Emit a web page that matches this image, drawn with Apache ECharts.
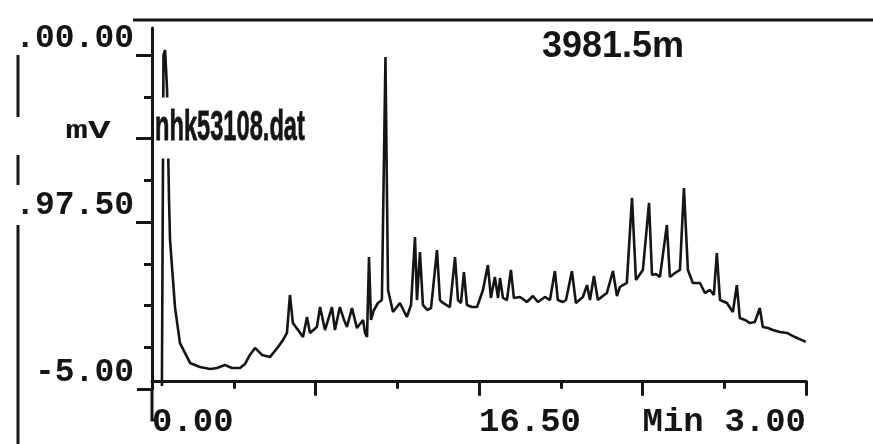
<!DOCTYPE html>
<html><head><meta charset="utf-8">
<script src="https://cdn.jsdelivr.net/npm/echarts@6/dist/echarts.min.js"></script>
<style>html,body{margin:0;padding:0;background:#fff}#c{width:873px;height:444px}</style>
</head><body><div id="c"></div>
<script>
// retention time (min)
const times = [0.50,0.58,0.66,0.76,0.86,0.91,1.16,1.41,1.92,2.42,2.93,3.28,3.68,4.04,4.44,4.69,4.94,5.20,5.55,5.95,6.36,6.61,6.81,6.96,7.11,7.37,7.62,7.82,7.97,8.32,8.48,8.73,9.08,9.23,9.48,9.69,9.84,10.09,10.34,10.65,10.75,10.85,10.95,11.05,11.20,11.40,11.60,11.78,11.91,12.16,12.51,12.86,13.07,13.27,13.37,13.52,13.67,13.88,14.08,14.38,14.53,14.68,15.03,15.29,15.44,15.59,15.74,15.89,16.14,16.40,16.70,16.95,17.10,17.30,17.46,17.56,17.71,17.91,18.11,18.26,18.57,18.92,19.22,19.47,19.83,20.08,20.33,20.48,20.73,20.89,21.19,21.39,21.74,21.95,22.10,22.30,22.50,22.75,22.95,23.26,23.46,23.61,23.76,23.96,24.22,24.42,24.77,25.08,25.23,25.43,25.63,25.98,26.13,26.39,26.64,26.84,27.04,27.29,27.65,27.90,28.15,28.35,28.50,28.66,29.01,29.31,29.51,29.66,29.92,30.17,30.42,30.67,30.82,31.08,31.33,31.68,32.04,32.44,32.99];
// detector signal (mV)
const signal = [-3.2,200.0,203.1,178.6,111.0,86.5,45.3,23.2,11.0,8.5,7.3,7.9,9.7,7.9,7.9,10.3,15.9,20.2,15.9,14.6,20.8,25.1,29.4,52.7,35.5,31.2,26.9,39.2,29.4,33.1,45.3,31.2,45.3,31.2,45.3,37.4,33.1,44.7,32.4,37.4,29.4,26.9,76.0,37.4,43.5,47.8,49.6,198.8,55.8,42.3,47.8,39.2,46.6,88.3,49.6,79.1,46.6,43.5,44.7,80.3,49.6,47.8,45.3,76.0,49.6,47.8,66.8,46.6,45.3,45.3,55.8,71.1,50.9,63.8,50.9,63.1,50.9,49.6,68.1,50.9,51.5,48.4,52.1,48.4,51.5,49.6,67.4,49.6,48.4,49.6,67.4,47.8,51.5,58.8,49.6,64.4,49.6,52.1,53.9,67.4,52.1,57.6,58.8,60.1,112.3,61.9,68.1,109.2,65.0,65.6,63.8,95.7,63.8,66.2,68.1,118.4,68.1,60.1,60.1,53.9,55.8,52.7,78.5,49.6,47.8,42.3,58.8,38.6,37.4,35.5,36.1,44.7,33.1,32.4,31.2,30.0,29.4,26.9,23.9];

const yTickValues = [-5, 20.625, 46.25, 71.875, 97.5, 123.125, 148.75, 174.375, 200];
const yMajorTicks = [97.5, 148.75, 200];
const yLabelValues = [-5, 97.5, 200];
const yLabelTexts = ['-5.00', '.97.50', '.00.00'];
const xMinorTicks = [4.125, 12.375, 20.625, 28.875];
const xMajorTicks = [8.25, 16.5, 24.75, 33];
const xLabelValues = [0, 16.5, 24.75, 33];
const xLabelTexts = ['0.00', '16.50', 'Min', '3.00'];
const titleText = '3981.5m';
const fileText = 'nhk53108.dat';
const unitText = 'mV';

const INK = '#151515';
const MONO = '"Liberation Mono","DejaVu Sans Mono",monospace';
const SANS = '"Liberation Sans",Arial,sans-serif';
const pick = (vals, texts) => v => { const i = vals.findIndex(a => Math.abs(a - v) < 1e-6); return i < 0 ? '' : texts[i]; };

const X_MIN = 0, X_MAX = 33, Y_MIN = -5, Y_MAX = 216.6;

const chart = echarts.init(document.getElementById('c'), null, {renderer: 'canvas'});
chart.setOption({
  animation: false,
  backgroundColor: '#fff',
  grid: {left: 152, right: 67, top: 28, bottom: 55},
  xAxis: [{
    type: 'value', min: X_MIN, max: X_MAX, position: 'bottom',
    splitLine: {show: false},
    axisLine: {lineStyle: {color: INK, width: 3}},
    axisTick: {customValues: xMinorTicks, length: 8, lineStyle: {color: INK, width: 3}},
    axisLabel: {customValues: xLabelValues, formatter: pick(xLabelValues, xLabelTexts),
      align: 'left', alignMaxLabel: 'right', margin: 16,
      color: INK, fontFamily: MONO, fontWeight: 'bold', fontSize: 34}
  }, {
    type: 'value', min: X_MIN, max: X_MAX, position: 'bottom', offset: 0,
    splitLine: {show: false}, axisLine: {show: false}, axisLabel: {show: false},
    axisTick: {customValues: xMajorTicks, length: 15, lineStyle: {color: INK, width: 3}}
  }],
  yAxis: [{
    type: 'value', min: Y_MIN, max: Y_MAX, position: 'left',
    splitLine: {show: false},
    axisLine: {show: true, lineStyle: {color: INK, width: 3}},
    axisTick: {show: true, customValues: yTickValues, length: 8, lineStyle: {color: INK, width: 3}},
    axisLabel: {customValues: yLabelValues, formatter: pick(yLabelValues, yLabelTexts),
      verticalAlign: 'bottom', margin: 18,
      color: INK, fontFamily: MONO, fontWeight: 'bold', fontSize: 33}
  }, {
    type: 'value', min: Y_MIN, max: Y_MAX, position: 'left', offset: 0,
    splitLine: {show: false}, axisLine: {show: false}, axisLabel: {show: false},
    axisTick: {show: true, customValues: yMajorTicks, length: 16, lineStyle: {color: INK, width: 3}}
  }],
  series: [{
    type: 'line', xAxisIndex: 0, yAxisIndex: 0,
    data: times.map((t, i) => [t, signal[i]]),
    showSymbol: false, symbol: 'none',
    lineStyle: {color: INK, width: 2.6}, z: 3
  }],
  graphic: [
    {type: 'line', z: 50, shape: {x1: 133, y1: 20, x2: 873, y2: 20}, style: {stroke: INK, lineWidth: 3}},
    {type: 'line', z: 50, shape: {x1: 18, y1: 55, x2: 18, y2: 117}, style: {stroke: INK, lineWidth: 3}},
    {type: 'line', z: 50, shape: {x1: 18, y1: 155, x2: 18, y2: 185}, style: {stroke: INK, lineWidth: 3}},
    {type: 'line', z: 50, shape: {x1: 18, y1: 225, x2: 18, y2: 444}, style: {stroke: INK, lineWidth: 3}},
    {type: 'line', z: 50, shape: {x1: 137, y1: 389.5, x2: 152, y2: 389.5}, style: {stroke: INK, lineWidth: 3}},
    {type: 'polyline', z: 50, shape: {points: [[152, 389], [152, 420], [157, 420]]}, style: {stroke: INK, lineWidth: 3, fill: null}},
    {type: 'text', z: 60, x: 613, y: 47, style: {text: titleText, fill: INK, font: 'bold 36px ' + SANS, align: 'center', verticalAlign: 'middle'}},
    {type: 'text', z: 60, x: 88, y: 132, scaleX: 1.5, style: {text: unitText, fill: INK, font: 'bold 25px ' + MONO, align: 'center', verticalAlign: 'middle'}},
    {type: 'text', z: 100, x: 155, y: 128, scaleX: 0.55,
      style: {text: fileText, fill: INK, font: 'bold 43px ' + SANS, align: 'left', verticalAlign: 'middle',
        stroke: INK, lineWidth: 0.8,
        backgroundColor: '#fff', padding: [6, 4, 12, 0]}}
  ]
});
</script></body></html>
